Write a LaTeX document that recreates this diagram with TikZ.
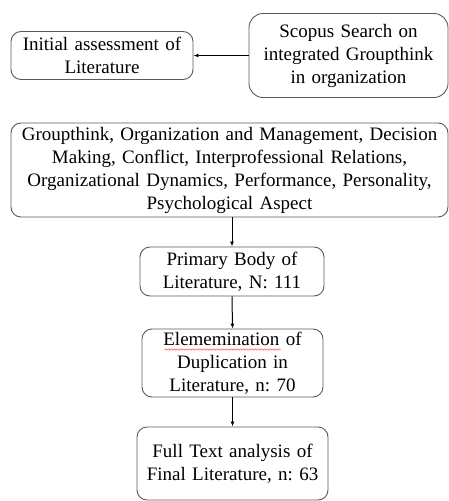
\documentclass[tikz,border=0pt]{standalone}
\usepackage{fontspec}
\setmainfont{Liberation Serif}
\usetikzlibrary{arrows.meta,decorations.pathmorphing}
\frenchspacing
\definecolor{boxline}{HTML}{5A5A5A}
\tikzset{
  flowbox/.style={draw=boxline, line width=0.9pt, rounded corners=10pt, inner sep=0pt,
    align=center, font=\fontsize{19}{23}\selectfont\frenchspacing},
  flowarrow/.style={draw=black, line width=1pt, -{Latex[length=5pt,width=4pt]}},
  spellwave/.style={draw=red!70, line width=0.5pt, decorate,
    decoration={snake, amplitude=0.7pt, segment length=3pt}}
}
\begin{document}
\begin{tikzpicture}[x=1pt,y=-1pt]
\useasboundingbox (0,0) rectangle (449,501);
\node[flowbox, minimum width=182pt, minimum height=48pt, text width=176pt] (b1) at (102,55.5)
  {Initial assessment of\\Literature};
\node[flowbox, rounded corners=14pt, minimum width=199pt, minimum height=84pt, text width=193pt] (b2) at (348.5,55.5)
  {Scopus Search on\\integrated Groupthink\\in organization};
\node[flowbox, minimum width=437pt, minimum height=94pt, text width=431pt] (b3) at (229.5,170)
  {Groupthink, Organization and Management, Decision\\Making, Conflict, Interprofessional Relations,\\Organizational Dynamics, Performance, Personality,\\Psychological Aspect};
\node[flowbox, minimum width=184pt, minimum height=49pt, text width=178pt] (b4) at (232,271.5)
  {Primary Body of\\Literature, N: 111};
\node[flowbox, minimum width=181pt, minimum height=68pt, text width=175pt] (b5) at (232.5,363)
  {Elememination of\\Duplication in\\Literature, n: 70};
\node[flowbox, minimum width=191pt, minimum height=73pt, text width=185pt] (b6) at (232.5,463.5)
  {Full Text analysis of\\Final Literature, n: 63};
\draw[flowarrow] (b2.west) -- (b1.east);
\draw[flowarrow] (b3.south -| b4.north) -- (b4.north);
\draw[flowarrow] (b4.south) -- (b5.north);
\draw[flowarrow] (b5.south) -- (b6.north);
\draw[spellwave] (164.5,349.5) -- (280.5,349.5);
\end{tikzpicture}
\end{document}
